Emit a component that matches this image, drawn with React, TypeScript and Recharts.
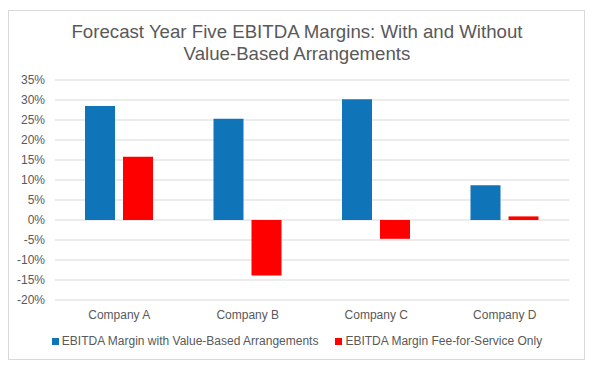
import { BarChart, Bar, XAxis, YAxis, CartesianGrid } from "recharts";

const companies = ["Company A", "Company B", "Company C", "Company D"];
const withValueBased = [28.5, 25.3, 30.2, 8.7];
const feeForService = [15.8, -13.9, -4.7, 0.9];
const yTicks = [-20, -15, -10, -5, 0, 5, 10, 15, 20, 25, 30, 35];
const seriesNames = ["EBITDA Margin with Value-Based Arrangements", "EBITDA Margin Fee-for-Service Only"];
const seriesColors = ["#0F75B8", "#FF0000"];

const data = companies.map((name, i) => ({
  name,
  vba: withValueBased[i],
  ffs: feeForService[i],
}));

const font = "'Liberation Sans', Arial, sans-serif";
const textColor = "#595959";

export default function App() {
  return (
    <div style={{ position: "absolute", left: 0, top: 0, width: 594, height: 370, background: "#fff" }}>
      <div
        style={{
          position: "absolute",
          left: 8,
          top: 10,
          width: 575,
          height: 348,
          border: "1px solid #d9d9d9",
        }}
      />
      <div
        style={{
          position: "absolute",
          left: 0,
          top: 21,
          width: 594,
          textAlign: "center",
          fontFamily: font,
          fontSize: 18.67,
          lineHeight: "21.5px",
          color: textColor,
        }}
      >
        Forecast Year Five EBITDA Margins: With and Without
        <br />
        Value-Based Arrangements
      </div>
      <div style={{ position: "absolute", left: 0, top: 0 }}>
        <BarChart
          width={594}
          height={370}
          data={data}
          margin={{ top: 80, right: 25, bottom: 40, left: 0 }}
          barSize={30}
          barGap={8}
        >
          <CartesianGrid vertical={false} stroke="#d9d9d9" />
          <XAxis
            dataKey="name"
            height={30}
            axisLine={false}
            tickLine={false}
            tickMargin={4}
            tick={{ fill: textColor, fontSize: 12, fontFamily: font }}
          />
          <YAxis
            width={55}
            domain={[-20, 35]}
            ticks={yTicks}
            interval={0}
            axisLine={false}
            tickLine={false}
            tickMargin={4}
            tickFormatter={(v: number) => `${v}%`}
            tick={{ fill: textColor, fontSize: 12, fontFamily: font }}
          />
          <Bar dataKey="vba" name={seriesNames[0]} fill={seriesColors[0]} isAnimationActive={false} />
          <Bar dataKey="ffs" name={seriesNames[1]} fill={seriesColors[1]} isAnimationActive={false} />
        </BarChart>
      </div>
      <div
        style={{
          position: "absolute",
          left: 0,
          top: 333,
          width: 594,
          display: "flex",
          justifyContent: "center",
          alignItems: "center",
          fontFamily: font,
          fontSize: 12,
          color: textColor,
          lineHeight: "16px",
        }}
      >
        {seriesNames.map((n, i) => (
          <div key={n} style={{ display: "flex", alignItems: "center", marginRight: i === 0 ? 17 : 0 }}>
            <span style={{ width: 7, height: 7, background: seriesColors[i], marginRight: 3, display: "inline-block" }} />
            <span>{n}</span>
          </div>
        ))}
      </div>
    </div>
  );
}
